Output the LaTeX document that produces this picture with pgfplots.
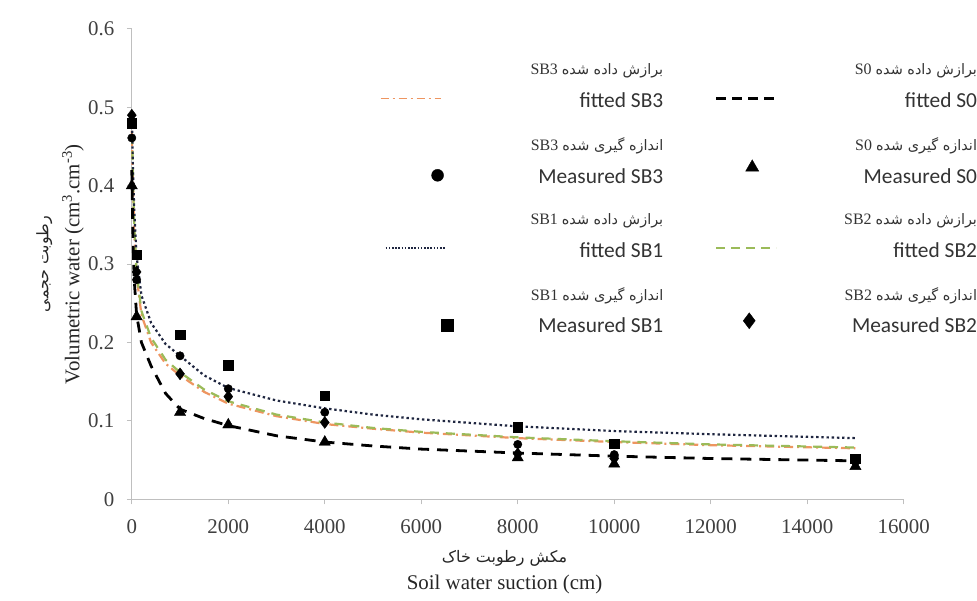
\documentclass[border=0pt]{standalone}
\usepackage{fontspec}
\setmainfont{Liberation Serif}
\newfontfamily\calfont{Carlito}
\newfontfamily\fafont[Script=Arabic]{DejaVu Sans}
\TeXXeTstate=1
\usepackage{pgfplots}
\pgfplotsset{compat=1.18}

\definecolor{axgray}{HTML}{BFBFBF}
\definecolor{sbone}{HTML}{1F2640}
\definecolor{sbtwo}{HTML}{9BBB59}
\definecolor{sbthree}{HTML}{EE9560}

% fitted retention curves (suction in cm, volumetric water content)
\pgfplotstableread{
h      s0     sb1    sb2    sb3
0      0.420  0.490  0.485  0.470
25     0.330  0.420  0.410  0.400
50     0.280  0.370  0.350  0.340
100    0.235  0.310  0.290  0.285
200    0.200  0.260  0.240  0.235
400    0.170  0.225  0.206  0.200
700    0.135  0.198  0.178  0.173
1000   0.115  0.183  0.162  0.158
1500   0.103  0.158  0.140  0.137
2000   0.094  0.142  0.125  0.122
3000   0.081  0.126  0.108  0.106
4000   0.073  0.116  0.098  0.096
5000   0.068  0.108  0.091  0.090
6000   0.064  0.102  0.086  0.085
8000   0.059  0.093  0.079  0.078
10000  0.055  0.087  0.074  0.073
12000  0.052  0.083  0.070  0.069
15000  0.049  0.078  0.066  0.065
}\fitted

% measured points
\pgfplotstableread{
h      s0     sb1    sb2    sb3
0      0.400  0.480  0.490  0.461
100    0.233  0.312  0.290  0.280
1000   0.111  0.210  0.160  0.183
2000   0.095  0.171  0.131  0.141
4000   0.073  0.132  0.098  0.111
8000   0.053  0.092  0.058  0.070
10000  0.045  0.071  0.052  0.057
15000  0.042  0.052  0.047  0.050
}\measured

% two-line legend text: Persian line above the English one
\newcommand\lent[4]{\parbox[b]{#4}{\raggedleft\calfont\fontsize{21.5}{33}\selectfont
  {\rmfamily\fontsize{16}{18}\selectfont #1~{\fafont\fontsize{14.5}{16}\selectfont #2}}\\
  #3}}
\newcommand\lentA[3]{\lent{#1}{#2}{#3}{210bp}\hspace*{52bp}}
\newcommand\lentB[3]{\lent{#1}{#2}{#3}{200bp}}

% legend samples sit on the English line of each entry
\pgfplotsset{
  legline/.style={legend image code/.code={\draw[##1] (#1,-12bp) -- ++(60bp,0bp);}},
  legmark/.style 2 args={legend image code/.code={\draw[##1] plot coordinates {(#1,#2)};}},
}

\begin{document}
\begin{tikzpicture}
\begin{axis}[
  scale only axis,
  width=773bp, height=471bp,
  xmin=0, xmax=16000, ymin=0, ymax=0.6,
  xtick={0,2000,...,16000},
  ytick={0,0.1,0.2,0.3,0.4,0.5,0.6},
  scaled x ticks=false,
  /pgf/number format/1000 sep={},
  /pgf/number format/assume math mode=true,
  axis lines=left,
  axis line style={-, axgray, line width=1bp},
  tick style={axgray, line width=1bp},
  tick align=outside,
  major tick length=5bp,
  ticklabel style={font=\fontsize{21}{24}\selectfont, text=black!75},
  yticklabel style={xshift=-9bp},
  xticklabel style={yshift=-12bp},
  clip=false,
  every axis y label/.style={at={(axis description cs:-0.093,0.5)}, rotate=90, anchor=center, align=center,
    font=\fontsize{21}{31}\selectfont, text=black!85},
  every axis x label/.style={at={(axis description cs:0.483,-0.155)}, anchor=center, align=center,
    font=\fontsize{21}{27}\selectfont, text=black!85},
  ylabel={{\fafont\fontsize{16}{18}\selectfont\beginR رطوبت حجمی\endR}\\
          Volumetric water (cm\textsuperscript{3}.cm\textsuperscript{-3})},
  xlabel={{\fafont\fontsize{16}{18}\selectfont\beginR مکش رطوبت خاک\endR}\\
          Soil water suction (cm)},
  legend columns=2,
  legend cell align=left,
  legend style={at={(axis description cs:0.321,0.926)}, anchor=north west,
    draw=none, fill=none, inner sep=0pt, row sep=28.5bp, column sep=0bp,
    nodes={inner sep=0pt, text=black!80}},
]
% fitted curves
\addplot[forget plot, sbthree, line width=2.2bp, dash pattern=on 9bp off 4bp on 2bp off 4bp] table[x=h, y=sb3] {\fitted};
\addplot[forget plot, sbtwo, line width=2.2bp, dash pattern=on 9bp off 7bp] table[x=h, y=sb2] {\fitted};
\addplot[forget plot, sbone, line width=2.2bp, dash pattern=on 2.4bp off 2.8bp] table[x=h, y=sb1] {\fitted};
\addplot[forget plot, black, line width=2.8bp, dash pattern=on 11bp off 8bp] table[x=h, y=s0] {\fitted};
% measured points
\addplot[forget plot, only marks, mark=triangle*, mark size=6.5bp, black] table[x=h, y=s0] {\measured};
\addplot[forget plot, only marks, mark=square*, mark size=4.8bp, black] table[x=h, y=sb1] {\measured};
\addplot[forget plot, only marks, mark=diamond*, mark size=6bp, black] table[x=h, y=sb2] {\measured};
\addplot[forget plot, only marks, mark=*, mark size=4.2bp, black] table[x=h, y=sb3] {\measured};

% legend, row by row
\addlegendimage{sbthree, line width=1.8bp, dash pattern=on 8bp off 4bp on 2bp off 4bp, legline={0bp}}
\addlegendentry{\lentA{SB3}{\beginR برازش داده شده\endR}{fitted SB3}}
\addlegendimage{black, line width=2.2bp, dash pattern=on 10bp off 6bp, legline={0bp}}
\addlegendentry{\lentB{S0}{\beginR برازش داده شده\endR}{fitted S0}}
\addlegendimage{only marks, mark=*, mark size=6bp, black, legmark={57bp}{-14bp}}
\addlegendentry{\lentA{SB3}{\beginR اندازه گیری شده\endR}{Measured SB3}}
\addlegendimage{only marks, mark=triangle*, mark size=7.5bp, black, legmark={36bp}{-6bp}}
\addlegendentry{\lentB{S0}{\beginR اندازه گیری شده\endR}{Measured S0}}
\addlegendimage{sbone, line width=1.6bp, dash pattern=on 1.6bp off 1.6bp, legline={5bp}}
\addlegendentry{\lentA{SB1}{\beginR برازش داده شده\endR}{fitted SB1}}
\addlegendimage{sbtwo, line width=1.8bp, dash pattern=on 9bp off 6bp, legline={0bp}}
\addlegendentry{\lentB{SB2}{\beginR برازش داده شده\endR}{fitted SB2}}
\addlegendimage{only marks, mark=square*, mark size=6bp, black, legmark={67bp}{-14bp}}
\addlegendentry{\lentA{SB1}{\beginR اندازه گیری شده\endR}{Measured SB1}}
\addlegendimage{only marks, mark=diamond*, mark size=8bp, black, legmark={33bp}{-10bp}}
\addlegendentry{\lentB{SB2}{\beginR اندازه گیری شده\endR}{Measured SB2}}
\end{axis}
\path[use as bounding box] (-132bp,-101bp) rectangle (845bp,500bp);
\end{tikzpicture}
\end{document}
